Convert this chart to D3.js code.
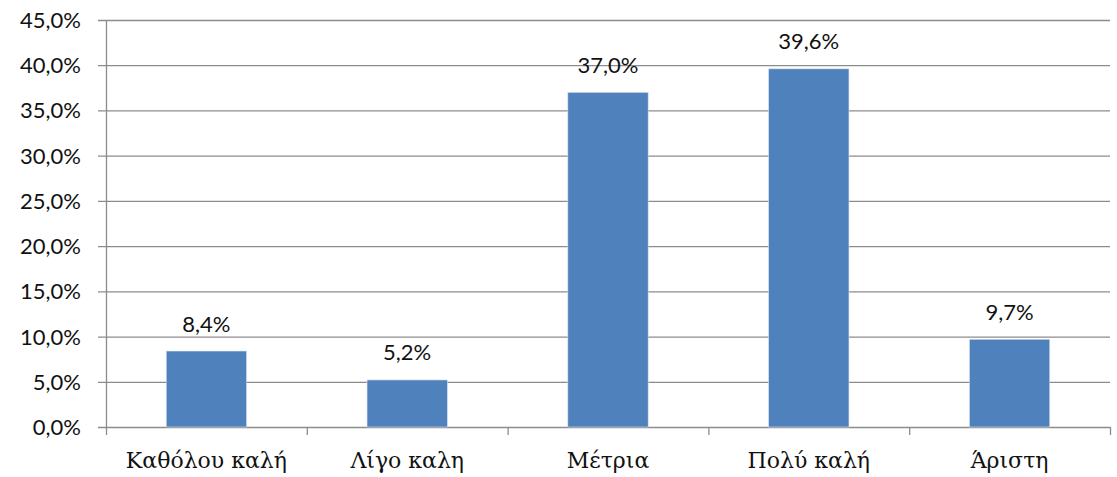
<!DOCTYPE html>
<html>
<head>
<meta charset="utf-8">
<script src="https://cdn.jsdelivr.net/npm/d3@7"></script>
<style>
  html, body { margin: 0; padding: 0; background: #fff; }
  svg { display: block; }
</style>
</head>
<body>
<svg id="chart" width="1117" height="477"></svg>
<script>
// Ratings and their shares (%)
const categories = ["Καθόλου καλή", "Λίγο καλη", "Μέτρια", "Πολύ καλή", "Άριστη"];
const values = [8.4, 5.2, 37.0, 39.6, 9.7];
const yTicks = [0, 5, 10, 15, 20, 25, 30, 35, 40, 45];

const fmt = v => d3.format(".1f")(v).replace(".", ",") + "%";

const svg = d3.select("#chart");
const plot = { left: 106, right: 1110, top: 20, bottom: 427 };

const x = d3.scaleBand().domain(categories).range([plot.left, plot.right])
  .paddingInner(0.6).paddingOuter(0.3);
const y = d3.scaleLinear().domain([0, 45]).range([plot.bottom, plot.top]);

const grid = "#8c8c8c";
const sans = "Lato, 'Open Sans', sans-serif";

// horizontal gridlines with small left tick marks
svg.append("g").selectAll("line").data(yTicks).join("line")
  .attr("x1", plot.left - 8).attr("x2", plot.right)
  .attr("y1", d => y(d) + 0.5).attr("y2", d => y(d) + 0.5)
  .attr("stroke", grid).attr("stroke-width", 1.3);

// y axis line
svg.append("line")
  .attr("x1", plot.left + 0.5).attr("x2", plot.left + 0.5)
  .attr("y1", plot.top).attr("y2", plot.bottom)
  .attr("stroke", grid).attr("stroke-width", 1.3);

// y tick labels
svg.append("g").selectAll("text").data(yTicks).join("text")
  .attr("x", 81).attr("y", d => y(d) + 8)
  .attr("text-anchor", "end")
  .attr("font-family", sans)
  .attr("font-size", 22).attr("fill", "#111")
  .text(d => fmt(d));

// category boundary ticks below the baseline
const boundaries = categories.map((c, i) => plot.left + i * x.step());
boundaries.push(plot.right);
svg.append("g").selectAll("line").data(boundaries).join("line")
  .attr("x1", d => d + 0.5).attr("x2", d => d + 0.5)
  .attr("y1", plot.bottom).attr("y2", plot.bottom + 8)
  .attr("stroke", grid).attr("stroke-width", 1.3);

// bars
svg.append("g").selectAll("rect").data(values).join("rect")
  .attr("x", (d, i) => x(categories[i]))
  .attr("width", x.bandwidth())
  .attr("y", d => y(d))
  .attr("height", d => y(0) - y(d))
  .attr("fill", "#4F81BD")
  .attr("stroke", "#d6e0ee").attr("stroke-width", 0.6);

// value labels
svg.append("g").selectAll("text").data(values).join("text")
  .attr("x", (d, i) => x(categories[i]) + x.bandwidth() / 2)
  .attr("y", d => y(d) - 19.5)
  .attr("text-anchor", "middle")
  .attr("font-family", sans)
  .attr("font-size", 22).attr("fill", "#111")
  .text(d => fmt(d));

// category labels
svg.append("g").selectAll("text").data(categories).join("text")
  .attr("x", d => x(d) + x.bandwidth() / 2)
  .attr("y", 468)
  .attr("text-anchor", "middle")
  .attr("font-family", "'DejaVu Serif', 'Liberation Serif', serif")
  .attr("font-size", 22).attr("fill", "#111")
  .text(d => d);
</script>
</body>
</html>
